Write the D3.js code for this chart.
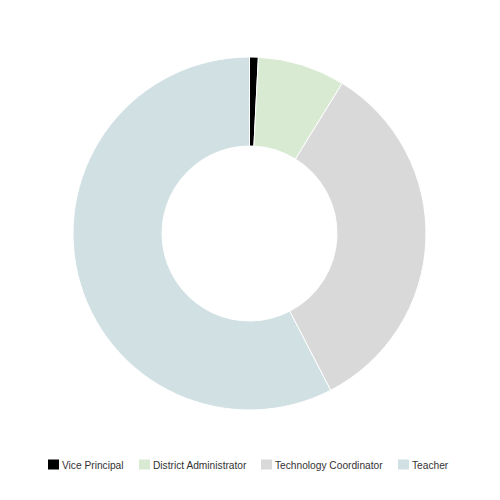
<!DOCTYPE html>
<html>
<head>
<meta charset="utf-8">
<script src="https://cdnjs.cloudflare.com/ajax/libs/d3/7.8.5/d3.min.js"></script>
<style>
  body { margin: 0; background: #fff; }
  text { font-family: "Liberation Sans", Arial, Helvetica, sans-serif; }
</style>
</head>
<body>
<div id="chart"></div>
<script>
// Values
const roles = ["Vice Principal", "District Administrator", "Technology Coordinator", "Teacher"];
const counts = [1, 10, 42, 72];
const colors = ["#000000", "#d9ead3", "#d9d9d9", "#d0e0e3"];

const width = 500, height = 500;
const cx = 249.5, cy = 233.5;
const outerR = 176.5, innerR = 87.5;

const svg = d3.select("#chart").append("svg")
    .attr("width", width)
    .attr("height", height);

const color = d3.scaleOrdinal().domain(roles).range(colors);

const pie = d3.pie()
    .sort(null)
    .value(d => d.count);

const arc = d3.arc()
    .innerRadius(innerR)
    .outerRadius(outerR);

const data = roles.map((r, i) => ({ role: r, count: counts[i] }));

svg.append("g")
    .attr("transform", `translate(${cx},${cy})`)
  .selectAll("path")
  .data(pie(data))
  .join("path")
    .attr("d", arc)
    .attr("fill", d => color(d.data.role))
    .attr("stroke", "#fff")
    .attr("stroke-width", 1);

// Legend
const legendX = [48, 139, 261, 398];
const legend = svg.append("g")
  .selectAll("g")
  .data(roles)
  .join("g")
    .attr("transform", (d, i) => `translate(${legendX[i]},459.5)`);

legend.append("rect")
    .attr("width", 11)
    .attr("height", 10)
    .attr("fill", d => color(d));

legend.append("text")
    .attr("x", 14)
    .attr("y", 9)
    .attr("font-size", 10.2)
    .attr("fill", "#333")
    .text(d => d);
</script>
</body>
</html>
